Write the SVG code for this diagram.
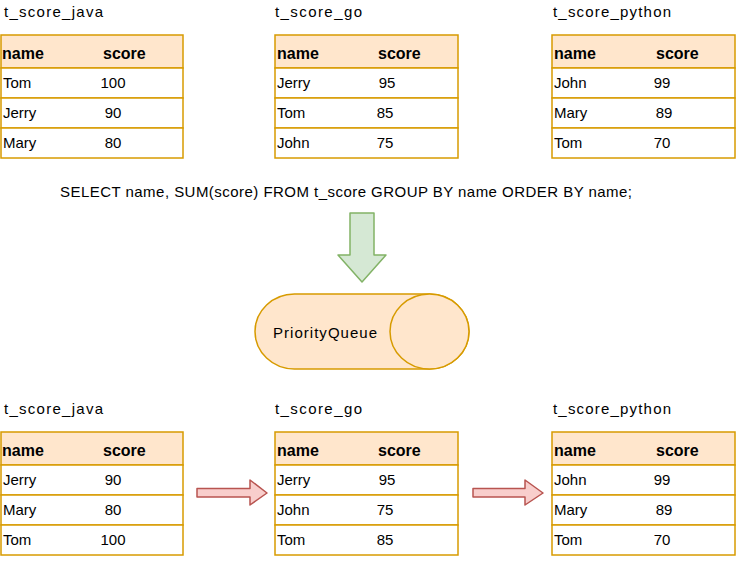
<svg xmlns="http://www.w3.org/2000/svg" width="736" height="561" viewBox="0 0 736 561">
<style>
text{font-family:"Liberation Sans","DejaVu Sans",sans-serif;fill:#000}
.title{font-size:15px}
.hdr{font-size:16px;font-weight:bold}
.cell{font-size:15px}
.val{font-size:15px;text-anchor:middle}
.hbox{fill:#ffe6cc;stroke:#d79b00;stroke-width:1.5}
.rbox{fill:#ffffff;stroke:#d79b00;stroke-width:1.5}
</style>
<rect width="736" height="561" fill="#ffffff"/>

<g id="t_java_top" transform="translate(1,35)">
<text class="title" x="3" y="-18" textLength="99" lengthAdjust="spacing">t_score_java</text>
<rect class="hbox" x="0" y="0" width="182" height="33"/>
<rect class="rbox" x="0" y="33" width="182" height="30"/>
<rect class="rbox" x="0" y="63" width="182" height="30"/>
<rect class="rbox" x="0" y="93" width="182" height="30"/>
<text class="hdr" x="1" y="24">name</text><text class="hdr" x="102" y="24">score</text>
<text class="cell" x="2" y="53">Tom</text><text class="val" x="112" y="53">100</text>
<text class="cell" x="2" y="83">Jerry</text><text class="val" x="112" y="83">90</text>
<text class="cell" x="2" y="113">Mary</text><text class="val" x="112" y="113">80</text>
</g>

<g id="t_go_top" transform="translate(275,35)">
<text class="title" x="0" y="-18" textLength="87" lengthAdjust="spacing">t_score_go</text>
<rect class="hbox" x="0" y="0" width="183" height="33"/>
<rect class="rbox" x="0" y="33" width="183" height="30"/>
<rect class="rbox" x="0" y="63" width="183" height="30"/>
<rect class="rbox" x="0" y="93" width="183" height="30"/>
<text class="hdr" x="2" y="24">name</text><text class="hdr" x="103" y="24">score</text>
<text class="cell" x="2" y="53">Jerry</text><text class="val" x="112" y="53">95</text>
<text class="cell" x="2" y="83">Tom</text><text class="val" x="110" y="83">85</text>
<text class="cell" x="2" y="113">John</text><text class="val" x="110" y="113">75</text>
</g>

<g id="t_python_top" transform="translate(552,35)">
<text class="title" x="1" y="-18" textLength="118" lengthAdjust="spacing">t_score_python</text>
<rect class="hbox" x="0" y="0" width="183" height="33"/>
<rect class="rbox" x="0" y="33" width="183" height="30"/>
<rect class="rbox" x="0" y="63" width="183" height="30"/>
<rect class="rbox" x="0" y="93" width="183" height="30"/>
<text class="hdr" x="2" y="24">name</text><text class="hdr" x="104" y="24">score</text>
<text class="cell" x="2" y="53">John</text><text class="val" x="110" y="53">99</text>
<text class="cell" x="2" y="83">Mary</text><text class="val" x="112" y="83">89</text>
<text class="cell" x="2" y="113">Tom</text><text class="val" x="110" y="113">70</text>
</g>

<g id="sql">
<text x="60" y="197" font-size="15" textLength="572" lengthAdjust="spacing">SELECT name, SUM(score) FROM t_score GROUP BY name ORDER BY name;</text>
</g>

<g id="priority_queue">
<path d="M294.5 294 L429.5 294 A39.5 37.5 0 0 1 429.5 369 L294.5 369 A39.5 37.5 0 0 1 294.5 294 Z" fill="#ffe6cc" stroke="#d79b00" stroke-width="1.5"/>
<ellipse cx="429.5" cy="331.5" rx="39.5" ry="37.5" fill="#ffe6cc" stroke="#d79b00" stroke-width="1.5"/>
<text x="273" y="338" font-size="15" textLength="104" lengthAdjust="spacing">PriorityQueue</text>
</g>

<g id="t_java_bottom" transform="translate(1,432)">
<text class="title" x="3" y="-18" textLength="99" lengthAdjust="spacing">t_score_java</text>
<rect class="hbox" x="0" y="0" width="182" height="33"/>
<rect class="rbox" x="0" y="33" width="182" height="30"/>
<rect class="rbox" x="0" y="63" width="182" height="30"/>
<rect class="rbox" x="0" y="93" width="182" height="30"/>
<text class="hdr" x="1" y="24">name</text><text class="hdr" x="102" y="24">score</text>
<text class="cell" x="2" y="53">Jerry</text><text class="val" x="112" y="53">90</text>
<text class="cell" x="2" y="83">Mary</text><text class="val" x="112" y="83">80</text>
<text class="cell" x="2" y="113">Tom</text><text class="val" x="112" y="113">100</text>
</g>

<g id="t_go_bottom" transform="translate(275,432)">
<text class="title" x="0" y="-18" textLength="87" lengthAdjust="spacing">t_score_go</text>
<rect class="hbox" x="0" y="0" width="183" height="33"/>
<rect class="rbox" x="0" y="33" width="183" height="30"/>
<rect class="rbox" x="0" y="63" width="183" height="30"/>
<rect class="rbox" x="0" y="93" width="183" height="30"/>
<text class="hdr" x="2" y="24">name</text><text class="hdr" x="103" y="24">score</text>
<text class="cell" x="2" y="53">Jerry</text><text class="val" x="112" y="53">95</text>
<text class="cell" x="2" y="83">John</text><text class="val" x="110" y="83">75</text>
<text class="cell" x="2" y="113">Tom</text><text class="val" x="110" y="113">85</text>
</g>

<g id="t_python_bottom" transform="translate(552,432)">
<text class="title" x="1" y="-18" textLength="118" lengthAdjust="spacing">t_score_python</text>
<rect class="hbox" x="0" y="0" width="183" height="33"/>
<rect class="rbox" x="0" y="33" width="183" height="30"/>
<rect class="rbox" x="0" y="63" width="183" height="30"/>
<rect class="rbox" x="0" y="93" width="183" height="30"/>
<text class="hdr" x="2" y="24">name</text><text class="hdr" x="104" y="24">score</text>
<text class="cell" x="2" y="53">John</text><text class="val" x="110" y="53">99</text>
<text class="cell" x="2" y="83">Mary</text><text class="val" x="112" y="83">89</text>
<text class="cell" x="2" y="113">Tom</text><text class="val" x="110" y="113">70</text>
</g>

<g id="connectors">
<path d="M350 213 L374 213 L374 255 L386 255 L362 282 L338 255 L350 255 Z" fill="#d5e8d4" stroke="#82b366" stroke-width="1.5" stroke-linejoin="round"/>
<path d="M197 488.5 L250 488.5 L250 480 L267 493 L250 505 L250 497 L197 497 Z" fill="#f8cecc" stroke="#b85450" stroke-width="1.5" stroke-linejoin="round"/>
<path d="M473 488.5 L525 488.5 L525 480 L543 493 L525 505 L525 497 L473 497 Z" fill="#f8cecc" stroke="#b85450" stroke-width="1.5" stroke-linejoin="round"/>
</g>
</svg>
